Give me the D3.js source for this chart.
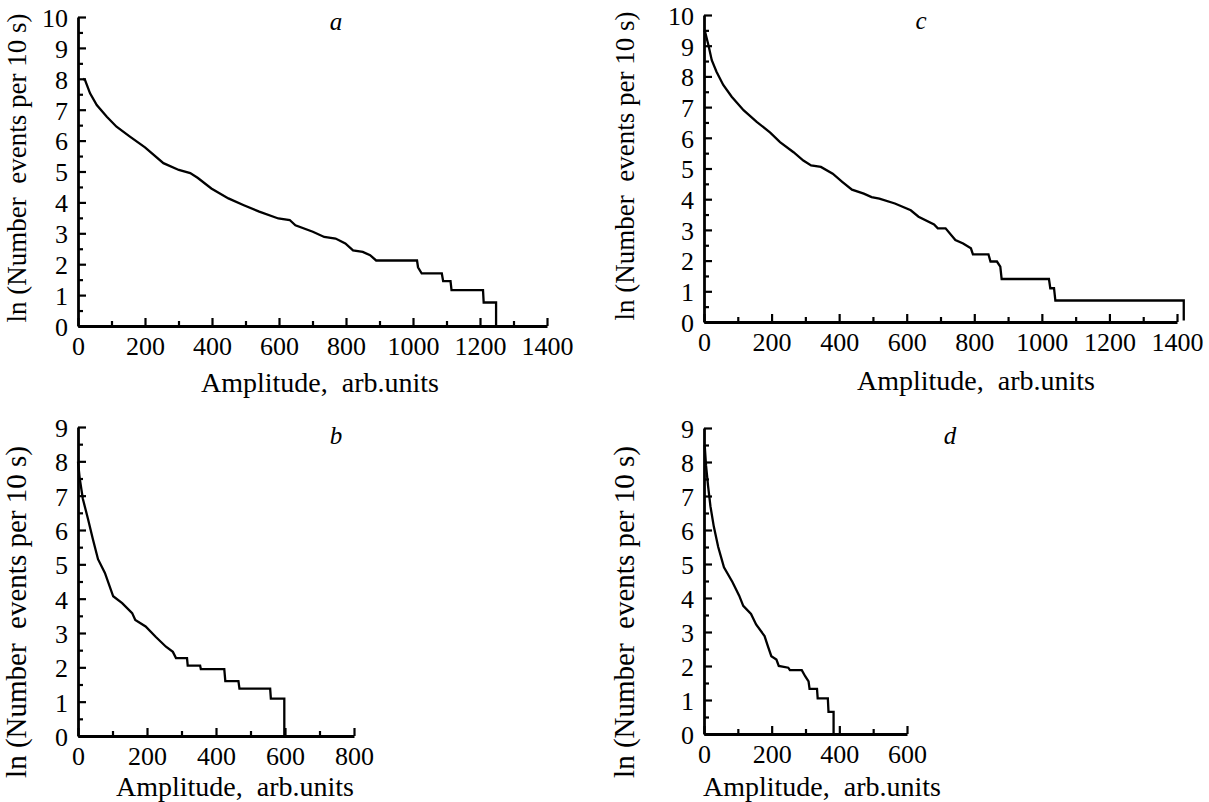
<!doctype html>
<html lang="en">
<head>
	<meta charset="utf-8">
	<title>Amplitude distributions</title>
	<script src="https://cdn.jsdelivr.net/npm/d3@7/dist/d3.min.js"></script>
	<style>
		body { margin: 0; background: #fff; }
	</style>
</head>
<body>
	<svg id="chart" width="1209" height="802"></svg>
	<script>
		// panel a
		var ampA = [15, 21, 36, 56, 86, 115, 155, 200, 255, 301, 335, 358, 398, 449, 495, 541, 598, 632, 649, 701, 735, 769, 798, 821, 850, 872, 890, 1012, 1015, 1026, 1086, 1090, 1112, 1115, 1209, 1211, 1248, 1248];
		var lnA  = [8.0, 7.96, 7.53, 7.15, 6.77, 6.45, 6.13, 5.78, 5.27, 5.05, 4.95, 4.79, 4.45, 4.13, 3.91, 3.7, 3.48, 3.43, 3.26, 3.05, 2.88, 2.83, 2.67, 2.45, 2.4, 2.29, 2.12, 2.12, 1.9, 1.7, 1.7, 1.45, 1.45, 1.16, 1.16, 0.76, 0.76, 0];
		// panel c
		var ampC = [0, 3, 13, 23, 37, 57, 82, 117, 156, 196, 225, 265, 294, 317, 346, 381, 410, 438, 473, 496, 519, 565, 612, 635, 681, 692, 715, 744, 767, 790, 796, 842, 848, 867, 877, 881, 1021, 1025, 1036, 1040, 1420, 1420];
		var lnC  = [9.5, 9.46, 9.02, 8.53, 8.15, 7.72, 7.34, 6.9, 6.52, 6.17, 5.86, 5.53, 5.26, 5.1, 5.05, 4.83, 4.56, 4.31, 4.18, 4.07, 4.02, 3.86, 3.64, 3.43, 3.18, 3.05, 3.05, 2.67, 2.56, 2.4, 2.2, 2.2, 1.97, 1.97, 1.8, 1.4, 1.4, 1.1, 1.1, 0.7, 0.7, 0.05];
		// panel b
		var ampB = [0, 5, 14, 29, 43, 58, 78, 102, 128, 157, 166, 196, 225, 255, 275, 284, 316, 318, 354, 356, 424, 427, 465, 468, 557, 559, 598, 598];
		var lnB  = [7.99, 7.5, 6.91, 6.32, 5.74, 5.15, 4.75, 4.07, 3.87, 3.58, 3.38, 3.19, 2.89, 2.6, 2.45, 2.27, 2.27, 2.05, 2.05, 1.95, 1.95, 1.6, 1.6, 1.38, 1.38, 1.09, 1.09, 0];
		// panel d
		var ampD = [2, 6, 12, 19, 29, 42, 59, 84, 104, 116, 139, 154, 179, 189, 199, 214, 221, 249, 254, 289, 299, 309, 312, 334, 336, 366, 368, 383, 383];
		var lnD  = [8.5, 7.9, 7.3, 6.7, 6.1, 5.5, 4.9, 4.47, 4.07, 3.77, 3.53, 3.22, 2.88, 2.58, 2.29, 2.19, 2.0, 1.95, 1.88, 1.88, 1.7, 1.55, 1.33, 1.33, 1.05, 1.05, 0.65, 0.65, 0];

		var xTitle = "Amplitude,\u00a0\u00a0arb.units";
		var yTitle = "ln (Number\u00a0\u00a0events per 10 s)";
		var serif = "'Liberation Serif', serif";

		var panels = [
			{ letter: "a", amp: ampA, ln: lnA, xMax: 1400, yMax: 10, x0: 78, x1: 547, y0: 326, y1: 17,
				letterX: 336, letterY: 30, xTitleX: 320, xTitleY: 392, yTitleX: 26, yTitleY: 168 },
			{ letter: "c", amp: ampC, ln: lnC, xMax: 1400, yMax: 10, x0: 704, x1: 1177, y0: 322, y1: 15,
				letterX: 921, letterY: 29, xTitleX: 976, xTitleY: 390, yTitleX: 634, yTitleY: 166 },
			{ letter: "b", amp: ampB, ln: lnB, xMax: 800, yMax: 9, x0: 78, x1: 354, y0: 736, y1: 427,
				letterX: 336, letterY: 444, xTitleX: 235, xTitleY: 796, yTitleX: 26, yTitleY: 612 },
			{ letter: "d", amp: ampD, ln: lnD, xMax: 600, yMax: 9, x0: 704, x1: 907, y0: 734, y1: 428,
				letterX: 950, letterY: 444, xTitleX: 822, xTitleY: 796, yTitleX: 634, yTitleY: 612 }
		];

		var svg = d3.select("#chart");
		svg.append("rect").attr("width", 1209).attr("height", 802).attr("fill", "#fff");

		panels.forEach(drawPanel);

		function drawPanel(p) {
			var xScale = d3.scaleLinear().domain([0, p.xMax]).range([p.x0, p.x1]);
			var yScale = d3.scaleLinear().domain([0, p.yMax]).range([p.y0, p.y1]);
			var g = svg.append("g");

			// minor ticks first
			var xMinor = d3.range(100, p.xMax + 1, 200);
			var yMinor = d3.range(0.5, p.yMax, 1);
			g.append("g").attr("transform", "translate(0," + p.y0 + ")")
				.call(d3.axisBottom(xScale).tickValues(xMinor).tickSize(-5).tickSizeOuter(0).tickFormat(""))
				.call(function(s) { s.select(".domain").remove(); });
			g.append("g").attr("transform", "translate(" + p.x0 + ",0)")
				.call(d3.axisLeft(yScale).tickValues(yMinor).tickSize(-5).tickSizeOuter(0).tickFormat(""))
				.call(function(s) { s.select(".domain").remove(); });

			var xAxis = g.append("g").attr("transform", "translate(0," + p.y0 + ")")
				.call(d3.axisBottom(xScale).tickValues(d3.range(0, p.xMax + 1, 200)).tickFormat(d3.format("d"))
					.tickSize(-8).tickSizeOuter(0).tickPadding(0));
			xAxis.selectAll("text").attr("y", 29).attr("dy", 0);

			var yAxis = g.append("g").attr("transform", "translate(" + p.x0 + ",0)")
				.call(d3.axisLeft(yScale).tickValues(d3.range(0, p.yMax + 1, 1)).tickFormat(d3.format("d"))
					.tickSize(-8).tickSizeOuter(0).tickPadding(10));
			yAxis.selectAll("text").attr("dy", "0.36em");

			g.selectAll("g").attr("font-family", serif).attr("font-size", 26);
			g.selectAll(".tick text").attr("font-family", serif).attr("font-size", 26).attr("fill", "#000");
			g.selectAll(".tick line").attr("stroke", "#000").attr("stroke-width", 2.2);
			g.selectAll(".domain").attr("stroke", "#000").attr("stroke-width", 2.8);

			var line = d3.line()
				.x(function(d) { return xScale(d[0]); })
				.y(function(d) { return yScale(d[1]); });
			g.append("path")
				.attr("d", line(d3.zip(p.amp, p.ln)))
				.attr("fill", "none")
				.attr("stroke", "#000")
				.attr("stroke-width", 2.3);

			g.append("text").attr("x", p.letterX).attr("y", p.letterY)
				.attr("text-anchor", "middle").attr("font-family", serif)
				.attr("font-size", 25).attr("font-style", "italic")
				.text(p.letter);
			g.append("text").attr("x", p.xTitleX).attr("y", p.xTitleY)
				.attr("text-anchor", "middle").attr("font-family", serif).attr("font-size", 28)
				.text(xTitle);
			g.append("text").attr("transform", "translate(" + p.yTitleX + "," + p.yTitleY + ") rotate(-90)")
				.attr("text-anchor", "middle").attr("font-family", serif)
				.attr("font-size", p.yMax == 10 ? 27 : 29)
				.text(yTitle);
		}
	</script>
</body>
</html>
